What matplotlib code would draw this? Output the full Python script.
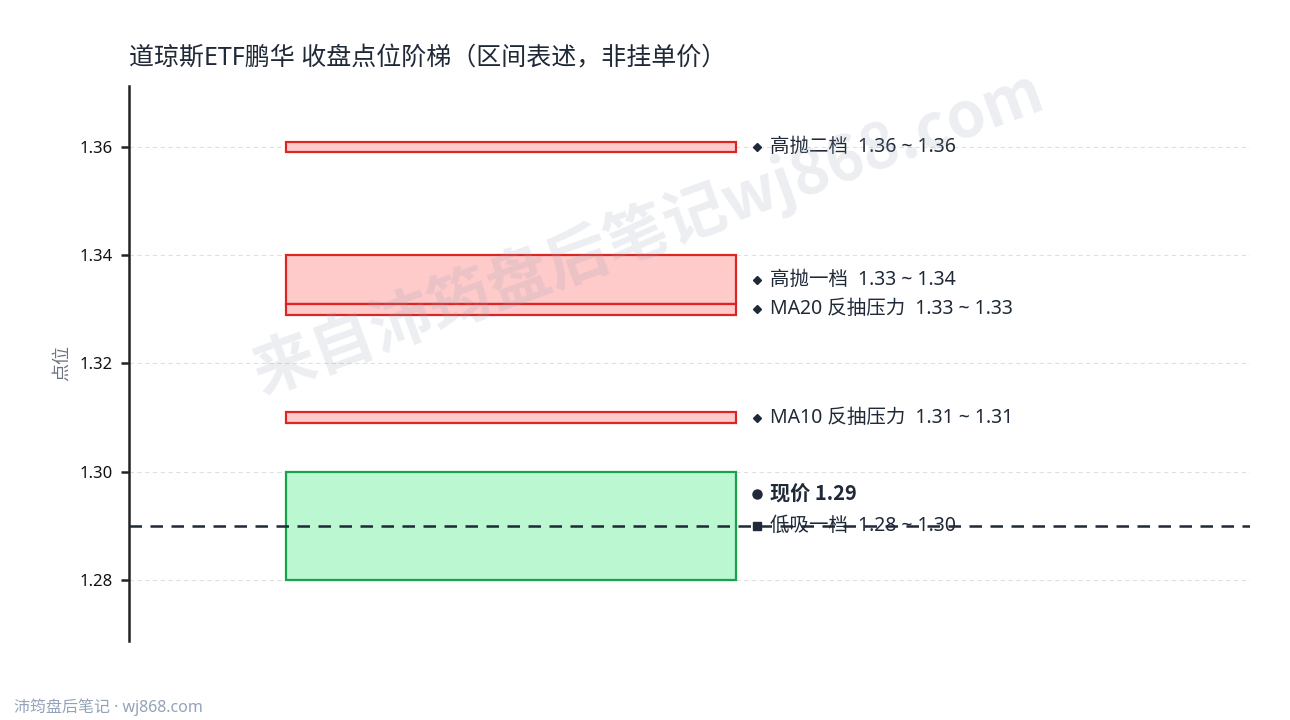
import matplotlib
matplotlib.use("Agg")
import matplotlib.pyplot as plt

plt.rcParams['font.family'] = ['Noto Sans', 'Noto Sans CJK SC', 'DejaVu Sans']
BOLD_FAMILY = ['Noto Sans CJK SC', 'DejaVu Sans']

# ---- data ----
names = ["高抛二档", "高抛一档", "MA20 反抽压力", "MA10 反抽压力", "低吸一档"]
low_vals = [1.359, 1.331, 1.329, 1.309, 1.28]
high_vals = [1.361, 1.34, 1.331, 1.311, 1.30]
range_lo = [1.36, 1.33, 1.33, 1.31, 1.28]
range_hi = [1.36, 1.34, 1.33, 1.31, 1.30]
kinds = ["sell", "sell", "sell", "sell", "buy"]
current_price = 1.29
y_ticks = [1.28, 1.30, 1.32, 1.34, 1.36]

title = "道琼斯ETF鹏华 收盘点位阶梯（区间表述，非挂单价）"

fig = plt.figure(figsize=(12.9, 7.2), dpi=100)
ax = fig.add_axes([0.1, 0.1097, 0.869, 0.7709])

x0, x1 = 0.14, 0.5415
label_x = 0.5605
text_x = 0.5715

colors = {"sell": ("#fecaca", "#dc2626"), "buy": ("#bbf7d0", "#16a34a")}

for n, lo, hi, rlo, rhi, k in zip(names, low_vals, high_vals, range_lo, range_hi, kinds):
    fc, ec = colors[k]
    ax.bar((x0 + x1) / 2, hi - lo, bottom=lo, width=x1 - x0, color=fc,
           edgecolor=ec, linewidth=1.6, zorder=3, alpha=1.0)
    mid = (lo + hi) / 2
    marker = 'D' if k == "sell" else 's'
    ms = 4 if k == "sell" else 6
    ax.plot([label_x], [mid], marker=marker, ms=ms, color="#1f2937", zorder=5,
            clip_on=False)
    ax.text(text_x, mid, f"{n}  {rlo:.2f} ~ {rhi:.2f}", va='center', ha='left',
            fontsize=14, color="#1f2937", zorder=5)

# current price
ax.axhline(current_price, color="#1f2937", lw=1.8, ls=(0, (5, 3.4)), zorder=6)
ax.plot([label_x], [current_price + 0.0059], marker='o', ms=6.5, color="#1f2937",
        zorder=5, clip_on=False)
ax.text(text_x, current_price + 0.0059, f"现价 {current_price:.2f}", va='center',
        ha='left', fontsize=14.5, fontweight='bold', color="#1f2937", zorder=5,
        family=BOLD_FAMILY)

ax.set_xlim(0, 1)
ax.set_ylim(1.26873, 1.37127)
ax.set_yticks(y_ticks)
ax.set_yticklabels([f"{v:.2f}" for v in y_ticks], fontsize=12, color="#111111")
ax.set_xticks([])
ax.grid(axis='y', color="#e0e0e0", ls=(0, (4, 3)), lw=0.8, zorder=0)
for s in ["top", "right", "bottom"]:
    ax.spines[s].set_visible(False)
ax.spines["left"].set_linewidth(1.8)
ax.spines["left"].set_color("#222222")
ax.tick_params(axis='y', length=6, width=1.8, color="#222222", pad=6)
ax.set_ylabel("点位", fontsize=13, color="#6b7280", labelpad=6)

fig.text(0.1, 0.918, title, fontsize=18, color="#1f2937", ha='left', va='center')

# watermark
fig.text(0.502, 0.678, "来自沛筠盘后笔记wj868.com", fontsize=45, fontweight='bold',
         color="#94a3b8", alpha=0.18, rotation=20, ha='center', va='center',
         zorder=10, family=BOLD_FAMILY)

fig.text(0.011, 0.018, "沛筠盘后笔记 · wj868.com", fontsize=11.5, color="#94a3b8",
         ha='left', va='center')

fig.savefig("out.png", dpi=100)
